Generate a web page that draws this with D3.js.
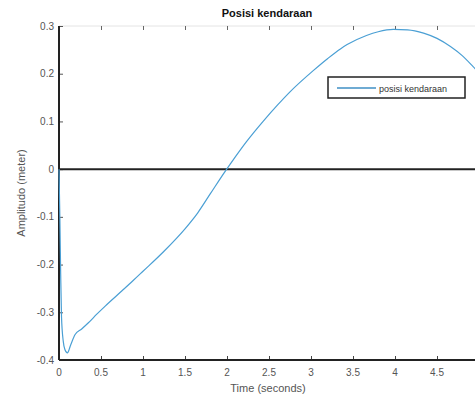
<!DOCTYPE html>
<html>
<head>
<meta charset="utf-8">
<script src="https://cdn.jsdelivr.net/npm/d3@7"></script>
<style>
	body { margin: 0; background: #fff; }
	svg { display: block; font-family: "Liberation Sans", Arial, sans-serif; }
</style>
</head>
<body>
<svg class="chart"></svg>
<script>
/*Time samples (seconds) and vehicle position (meter)*/
const times = [0, 0.01, 0.02, 0.03, 0.05, 0.07, 0.1, 0.14, 0.19, 0.27, 0.35, 0.45, 0.55, 0.75, 0.88, 1.0, 1.25, 1.5, 1.65, 1.8, 1.98, 2.04, 2.23, 2.43, 2.6, 2.75, 3.03, 3.2, 3.35, 3.43, 3.66, 3.8, 3.98, 4.15, 4.34, 4.5, 4.66, 4.8, 4.93, 5.0]
const posisi = [0, -0.1, -0.22, -0.31, -0.36, -0.378, -0.385, -0.368, -0.347, -0.335, -0.322, -0.304, -0.287, -0.255, -0.234, -0.214, -0.172, -0.125, -0.092, -0.052, -0.004, 0.011, 0.057, 0.1, 0.134, 0.162, 0.207, 0.232, 0.252, 0.261, 0.28, 0.288, 0.293, 0.292, 0.285, 0.274, 0.257, 0.238, 0.215, 0.202]
const xTicks = [0, 0.5, 1, 1.5, 2, 2.5, 3, 3.5, 4, 4.5, 5]
const xLabels = [0, 0.5, 1, 1.5, 2, 2.5, 3, 3.5, 4, 4.5]
const yTicks = [0.3, 0.2, 0.1, 0, -0.1, -0.2, -0.3, -0.4]

const W = 475, H = 401
const margin = { top: 26, left: 59, right: -4, bottom: 41 }

var chart = d3.select(".chart")
		.attr("width", W)
		.attr("height", H)

var x = d3.scaleLinear().domain([0, 5]).range([margin.left, W - margin.right])
var y = d3.scaleLinear().domain([-0.4, 0.3]).range([H - margin.bottom, margin.top])

/*Top and right box edges (faint)*/
chart.append("line")
		.attr("x1", x(0)).attr("x2", x(5))
		.attr("y1", y(0.3)).attr("y2", y(0.3))
		.attr("stroke", "#e4e4e4")
chart.append("line")
		.attr("x1", x(5)).attr("x2", x(5))
		.attr("y1", y(0.3)).attr("y2", y(-0.4))
		.attr("stroke", "#e4e4e4")

/*Inward ticks on all four sides*/
chart.append("g")
		.attr("transform", "translate(0," + y(-0.4) + ")")
		.call(d3.axisTop(x).tickValues(xTicks).tickSize(4).tickFormat(""))
		.call(g => g.select(".domain").remove())
		.selectAll("line").attr("stroke", "#444")
chart.append("g")
		.attr("transform", "translate(0," + y(0.3) + ")")
		.call(d3.axisBottom(x).tickValues(xTicks).tickSize(4).tickFormat(""))
		.call(g => g.select(".domain").remove())
		.selectAll("line").attr("stroke", "#666")
chart.append("g")
		.attr("transform", "translate(" + x(0) + ",0)")
		.call(d3.axisRight(y).tickValues(yTicks).tickSize(4).tickFormat(""))
		.call(g => g.select(".domain").remove())
		.selectAll("line").attr("stroke", "#555")
chart.append("g")
		.attr("transform", "translate(" + x(5) + ",0)")
		.call(d3.axisLeft(y).tickValues(yTicks).tickSize(4).tickFormat(""))
		.call(g => g.select(".domain").remove())
		.selectAll("line").attr("stroke", "#555")

/*Tick labels*/
chart.append("g")
		.selectAll("text")
		.data(xLabels)
		.enter()
		.append("text")
			.attr("x", d => x(d))
			.attr("y", y(-0.4) + 16)
			.attr("text-anchor", "middle")
			.attr("fill", "#555")
			.style("font-size", "10px")
			.text(d => d)
chart.append("g")
		.selectAll("text")
		.data(yTicks)
		.enter()
		.append("text")
			.attr("x", x(0) - 5)
			.attr("y", d => y(d) + 3.5)
			.attr("text-anchor", "end")
			.attr("fill", "#555")
			.style("font-size", "10px")
			.text(d => d)

/*Zero line and main axes*/
chart.append("line")
		.attr("x1", x(0)).attr("x2", x(5))
		.attr("y1", y(0)).attr("y2", y(0))
		.attr("stroke", "#222")
		.attr("stroke-width", 2)
chart.append("line")
		.attr("x1", x(0)).attr("x2", x(5))
		.attr("y1", y(-0.4)).attr("y2", y(-0.4))
		.attr("stroke", "#222")
		.attr("stroke-width", 2)
chart.append("line")
		.attr("x1", x(0)).attr("x2", x(0))
		.attr("y1", y(0.3)).attr("y2", y(-0.4))
		.attr("stroke", "#222")
		.attr("stroke-width", 2)

/*Position curve, smoothed between the read points*/
var line = d3.line()
		.x((d, i) => x(times[i]))
		.y(d => y(d))
		.curve(d3.curveMonotoneX)
chart.append("path")
		.datum(posisi)
		.attr("d", line)
		.attr("fill", "none")
		.attr("stroke", "#4a9fd4")
		.attr("stroke-width", 1.2)

/*Legend*/
var legend = chart.append("g")
		.attr("transform", "translate(328,77)")
legend.append("rect")
		.attr("width", 137)
		.attr("height", 21)
		.attr("fill", "#fff")
		.attr("stroke", "#222")
		.attr("stroke-width", 1.5)
legend.append("line")
		.attr("x1", 9).attr("x2", 48)
		.attr("y1", 11).attr("y2", 11)
		.attr("stroke", "#3f8fc4")
		.attr("stroke-width", 1.3)
legend.append("text")
		.attr("x", 51)
		.attr("y", 14.5)
		.attr("fill", "#333")
		.style("font-size", "9px")
		.text("posisi kendaraan")

/*Title and axis labels*/
chart.append("text")
		.attr("x", x(2.5) - 2)
		.attr("y", 17)
		.attr("text-anchor", "middle")
		.attr("fill", "#111")
		.style("font-size", "11px")
		.style("font-weight", "bold")
		.text("Posisi kendaraan")
chart.append("text")
		.attr("x", x(2.5) - 1)
		.attr("y", 392)
		.attr("text-anchor", "middle")
		.attr("fill", "#555")
		.style("font-size", "11px")
		.text("Time (seconds)")
chart.append("text")
		.attr("transform", "translate(25," + y(-0.05) + ") rotate(-90)")
		.attr("text-anchor", "middle")
		.attr("fill", "#555")
		.style("font-size", "11px")
		.text("Amplitudo (meter)")
</script>
</body>
</html>
